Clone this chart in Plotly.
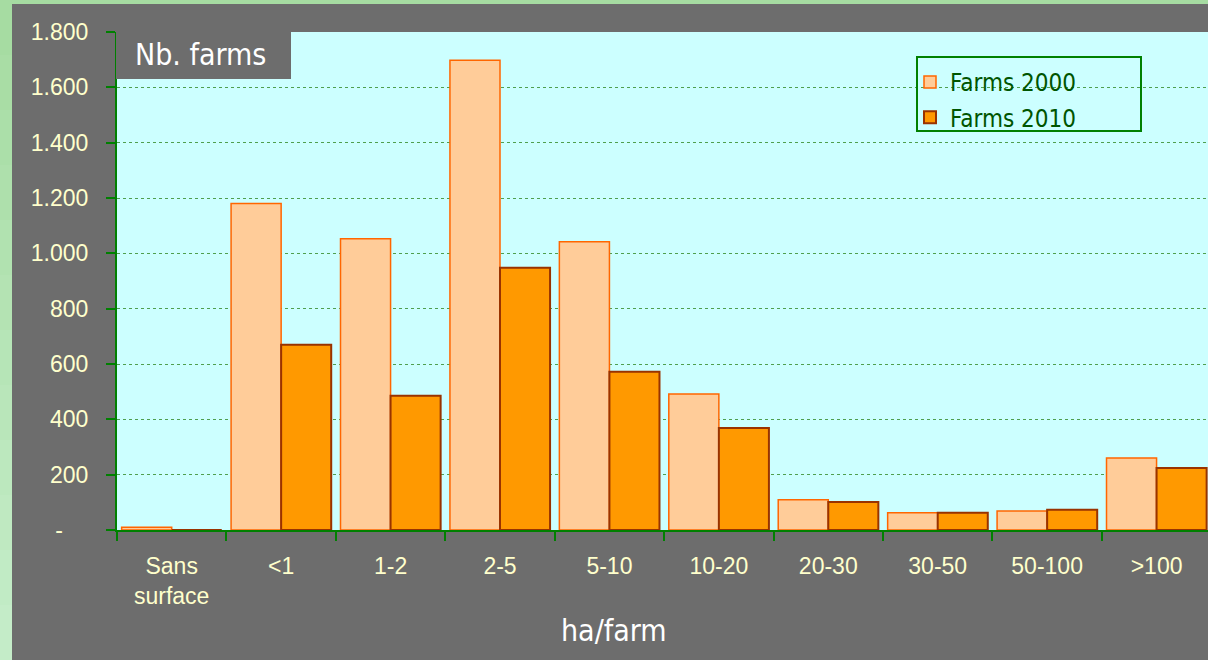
import plotly.graph_objects as go

# ---- data ----
categories = ["Sans<br>surface", "<1", "1-2", "2-5", "5-10", "10-20", "20-30", "30-50", "50-100", ">100"]
farms_2000 = [10, 1180, 1053, 1698, 1042, 492, 109, 62, 69, 260]
farms_2010 = [0, 670, 485, 948, 572, 369, 101, 62, 73, 224]
y_tick_vals = [0, 200, 400, 600, 800, 1000, 1200, 1400, 1600, 1800]
y_tick_text = ["-\u00a0\u00a0\u00a0\u00a0", "200", "400", "600", "800", "1.000", "1.200", "1.400", "1.600", "1.800"]
series_names = ["Farms 2000", "Farms 2010"]

# ---- geometry ----
W, H = 1208, 660
ML, MR, MT, MB = 117, 0, 32, 130
PW, PH = W - ML - MR, H - MT - MB


def px(x):
    return (x - ML) / PW


def py(y):
    return (H - MB - y) / PH


GRAY = "#6d6d6d"
CYAN = "#ccffff"
GREEN = "#008000"
TICKTXT = "#ffffcc"
TXTFONT = "DejaVu Sans Condensed, DejaVu Sans, sans-serif"
NUMFONT = "Liberation Sans, Arial, sans-serif"

fig = go.Figure()
fig.add_trace(go.Bar(
    x=categories, y=farms_2000, name=series_names[0], legendgroup="a",
    marker=dict(color="#ffcc99", line=dict(color="#ff6600", width=1.5)),
))
fig.add_trace(go.Bar(
    x=categories, y=farms_2010, name=series_names[1], legendgroup="b",
    marker=dict(color="#ff9900", line=dict(color="#993300", width=2)),
))

shapes = []
# green left strip with a soft vertical gradient
n = 12
c0 = (166, 220, 162)
c1 = (196, 236, 200)
for i in range(n):
    t = i / (n - 1)
    col = "rgb(%d,%d,%d)" % tuple(int(round(a + (b - a) * t)) for a, b in zip(c0, c1))
    y0 = H * i / n
    y1 = H * (i + 1) / n
    shapes.append(dict(type="rect", xref="paper", yref="paper", layer="below",
                       x0=px(0), x1=px(12), y0=py(y1), y1=py(y0),
                       fillcolor=col, line=dict(width=0)))
# green top strip
shapes.append(dict(type="rect", xref="paper", yref="paper", layer="below",
                   x0=px(0), x1=px(W), y0=py(4), y1=py(0),
                   fillcolor="rgb(166,220,162)", line=dict(width=0)))
# "Nb. farms" label box
shapes.append(dict(type="rect", xref="paper", yref="paper", layer="above",
                   x0=px(116), x1=px(291), y0=py(79), y1=py(30),
                   fillcolor=GRAY, line=dict(width=0)))
# legend frame
shapes.append(dict(type="rect", xref="paper", yref="paper", layer="above",
                   x0=px(917), x1=px(1141), y0=py(131), y1=py(57),
                   fillcolor="rgba(0,0,0,0)", line=dict(color=GREEN, width=2)))

annotations = [
    dict(text="Nb. farms", xref="paper", yref="paper", x=px(200), y=py(54),
         xanchor="center", yanchor="middle", showarrow=False,
         font=dict(family=TXTFONT, size=30, color="white")),
    dict(text="ha/farm", xref="paper", yref="paper", x=px(614), y=py(630),
         xanchor="center", yanchor="middle", showarrow=False,
         font=dict(family=TXTFONT, size=30, color="white")),
]

fig.update_layout(
    width=W, height=H, autosize=False,
    margin=dict(l=ML, r=MR, t=MT, b=MB, pad=0),
    paper_bgcolor=GRAY, plot_bgcolor=CYAN,
    barmode="group", bargap=0.085, bargroupgap=0,
    shapes=shapes, annotations=annotations,
    showlegend=True,
    legend=dict(x=px(910), xanchor="left", y=py(60), yanchor="top",
                bgcolor="rgba(0,0,0,0)", borderwidth=0,
                traceorder="grouped", tracegroupgap=1,
                font=dict(family=TXTFONT, size=24, color="#005500")),
    xaxis=dict(
        type="category", range=[-0.5, 9.47],
        showline=True, linecolor=GREEN, linewidth=2, layer="above traces",
        ticks="outside", tickson="boundaries", ticklen=9, tickwidth=2, tickcolor=GREEN,
        showgrid=False, zeroline=False,
        tickfont=dict(family=NUMFONT, size=23, color=TICKTXT),
        ticklabelstandoff=14,
    ),
    yaxis=dict(
        range=[0, 1800], tickvals=y_tick_vals, ticktext=y_tick_text,
        showline=True, linecolor=GREEN, linewidth=2,
        ticks="outside", ticklen=9, tickwidth=2, tickcolor=GREEN,
        showgrid=True, gridcolor="#4f9f4f", gridwidth=1, griddash="dot",
        zeroline=False,
        tickfont=dict(family=NUMFONT, size=23, color=TICKTXT),
        ticklabelstandoff=13,
    ),
)

fig.write_html(
    "out.html",
    config={"displayModeBar": False},
    post_script="document.body.style.margin='0';document.body.style.overflow='hidden';",
)
